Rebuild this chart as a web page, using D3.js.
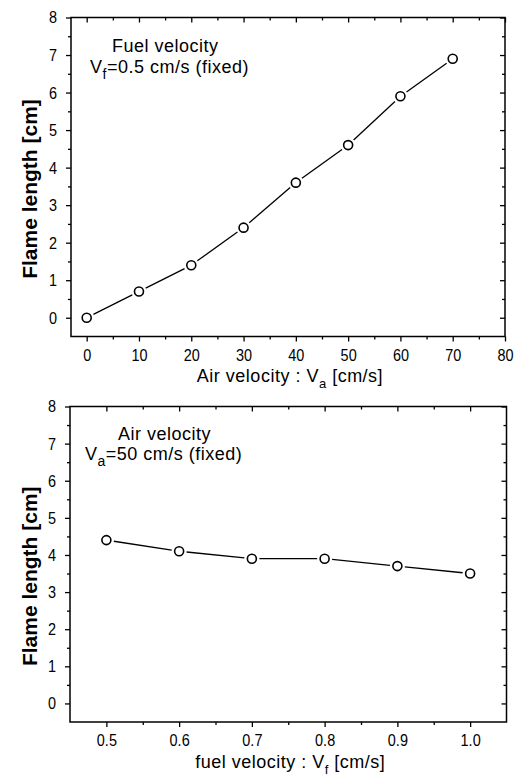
<!DOCTYPE html>
<html>
<head>
<meta charset="utf-8">
<script src="https://cdn.jsdelivr.net/npm/d3@7"></script>
<style>
  html, body { margin: 0; padding: 0; background: #fff; }
  svg { display: block; font-family: "Liberation Sans", Arial, sans-serif; }
</style>
</head>
<body>
<svg id="chart" width="522" height="776"></svg>
<script>
// ---- Data ----
const airVelocity = [0, 10, 20, 30, 40, 50, 60, 70];
const flameLengthA = [0, 0.7, 1.4, 2.4, 3.6, 4.6, 5.9, 6.9];
const fuelVelocity = [0.5, 0.6, 0.7, 0.8, 0.9, 1.0];
const flameLengthB = [4.4, 4.1, 3.9, 3.9, 3.7, 3.5];
const yTicks = [0, 1, 2, 3, 4, 5, 6, 7, 8];
const yMinorTicks = [0.5, 1.5, 2.5, 3.5, 4.5, 5.5, 6.5, 7.5];
const xTicksA = [0, 10, 20, 30, 40, 50, 60, 70, 80];
const xMinorA = [5, 15, 25, 35, 45, 55, 65, 75];
const xTicksB = [0.5, 0.6, 0.7, 0.8, 0.9, 1.0];
const xMinorB = [0.55, 0.65, 0.75, 0.85, 0.95];

const svg = d3.select("#chart");
const SX = 0.85;      // condensed tick digits
const TICKFONT = 17;

function cleanAxis(sel) {
  sel.select(".domain").remove();
  sel.selectAll("line").attr("stroke-width", 1.3);
}

function panel(cfg) {
  const g = svg.append("g");
  const x = d3.scaleLinear().domain(cfg.xDomain).range([cfg.left, cfg.right]);
  const y = d3.scaleLinear().domain([-0.5, 8]).range([cfg.bottom, cfg.top]);

  // frame
  g.append("rect").attr("x", cfg.left).attr("y", cfg.top)
    .attr("width", cfg.right - cfg.left).attr("height", cfg.bottom - cfg.top)
    .attr("fill", "none").attr("stroke", "#000").attr("stroke-width", 1.5);

  // bottom axis (outward)
  const gb = g.append("g").attr("transform", `translate(0,${cfg.bottom})`)
    .call(d3.axisBottom(x).tickValues(cfg.xTicks).tickSize(5).tickPadding(7).tickFormat(cfg.xFormat));
  cleanAxis(gb);
  gb.selectAll("text").attr("font-size", TICKFONT).attr("font-family", "Liberation Sans, Arial, sans-serif")
    .attr("transform", `scale(${SX},1)`);
  cleanAxis(g.append("g").attr("transform", `translate(0,${cfg.bottom})`)
    .call(d3.axisBottom(x).tickValues(cfg.xMinor).tickSize(3).tickFormat("")));

  // top axis (inward)
  cleanAxis(g.append("g").attr("transform", `translate(0,${cfg.top})`)
    .call(d3.axisTop(x).tickValues(cfg.xTicks).tickSize(-5).tickFormat("")));
  cleanAxis(g.append("g").attr("transform", `translate(0,${cfg.top})`)
    .call(d3.axisTop(x).tickValues(cfg.xMinor).tickSize(-3).tickFormat("")));

  // left axis (outward)
  const gl = g.append("g").attr("transform", `translate(${cfg.left},0)`)
    .call(d3.axisLeft(y).tickValues(yTicks).tickSize(5).tickPadding(9).tickFormat(d3.format("d")));
  cleanAxis(gl);
  gl.selectAll("text").attr("font-size", TICKFONT).attr("font-family", "Liberation Sans, Arial, sans-serif")
    .attr("x", -14 / SX).attr("transform", `scale(${SX},1)`);
  cleanAxis(g.append("g").attr("transform", `translate(${cfg.left},0)`)
    .call(d3.axisLeft(y).tickValues(yMinorTicks).tickSize(3).tickFormat("")));

  // right axis (inward)
  cleanAxis(g.append("g").attr("transform", `translate(${cfg.right},0)`)
    .call(d3.axisRight(y).tickValues(yTicks).tickSize(-5).tickFormat("")));
  cleanAxis(g.append("g").attr("transform", `translate(${cfg.right},0)`)
    .call(d3.axisRight(y).tickValues(yMinorTicks).tickSize(-3).tickFormat("")));

  // y title
  const cy = (cfg.top + cfg.bottom) / 2 + 12;
  g.append("text").attr("transform", `translate(37,${cy}) rotate(-90)`)
    .attr("text-anchor", "middle").attr("font-size", 21).attr("font-weight", "bold")
    .text("Flame length [cm]");

  // x title
  const xt = g.append("text").attr("x", (cfg.left + cfg.right) / 2 + 2).attr("y", cfg.bottom + cfg.xTitleOff)
    .attr("text-anchor", "middle").attr("font-size", 18).attr("letter-spacing", 0.5);
  xt.append("tspan").text(cfg.xTitle[0]);
  xt.append("tspan").attr("font-size", 13).attr("dy", 6).text(cfg.xTitle[1]);
  xt.append("tspan").attr("dy", -6).text(cfg.xTitle[2]);

  // annotation
  g.append("text").attr("x", cfg.ann1[1]).attr("y", cfg.ann1[2]).attr("font-size", 18)
    .attr("letter-spacing", 0.5).text(cfg.ann1[0]);
  const a2 = g.append("text").attr("x", cfg.ann2x).attr("y", cfg.ann2y).attr("font-size", 18)
    .attr("letter-spacing", 0.5);
  a2.append("tspan").text("V");
  a2.append("tspan").attr("font-size", 14).attr("dy", 6).text(cfg.ann2[0]);
  a2.append("tspan").attr("dy", -6).text(cfg.ann2[1]);

  // line with gaps near markers
  const r = 4.5, gap = 3;
  const pts = cfg.xs.map((v, i) => [x(v), y(cfg.ys[i])]);
  const segs = [];
  for (let i = 0; i < pts.length - 1; i++) {
    const [x0, y0] = pts[i], [x1, y1] = pts[i + 1];
    const L = Math.hypot(x1 - x0, y1 - y0);
    const ux = (x1 - x0) / L, uy = (y1 - y0) / L;
    const off = r + gap;
    segs.push([x0 + ux * off, y0 + uy * off, x1 - ux * off, y1 - uy * off]);
  }
  g.selectAll(".seg").data(segs).enter().append("line").attr("class", "seg")
    .attr("x1", d => d[0]).attr("y1", d => d[1]).attr("x2", d => d[2]).attr("y2", d => d[3])
    .attr("stroke", "#000").attr("stroke-width", 1.3);
  g.selectAll(".pt").data(cfg.xs).enter().append("circle").attr("class", "pt")
    .attr("cx", d => x(d)).attr("cy", (d, i) => y(cfg.ys[i])).attr("r", r)
    .attr("fill", "#fff").attr("stroke", "#000").attr("stroke-width", 1.6);
}

panel({
  left: 71, right: 505, top: 17.5, bottom: 336.5,
  xDomain: [-3, 80], xTicks: xTicksA, xMinor: xMinorA,
  xFormat: d3.format("d"), xTitleOff: 45,
  xs: airVelocity, ys: flameLengthA,
  xTitle: ["Air velocity : V", "a", " [cm/s]"],
  ann1: ["Fuel velocity", 112, 52],
  ann2: ["f", "=0.5 cm/s (fixed)"], ann2x: 90, ann2y: 73
});

panel({
  left: 70, right: 506.5, top: 406.5, bottom: 722,
  xDomain: [0.45, 1.05], xTicks: xTicksB, xMinor: xMinorB,
  xFormat: d3.format(".1f"), xTitleOff: 46,
  xs: fuelVelocity, ys: flameLengthB,
  xTitle: ["fuel velocity : V", "f", " [cm/s]"],
  ann1: ["Air velocity", 118, 440],
  ann2: ["a", "=50 cm/s (fixed)"], ann2x: 85, ann2y: 460
});
</script>
</body>
</html>
